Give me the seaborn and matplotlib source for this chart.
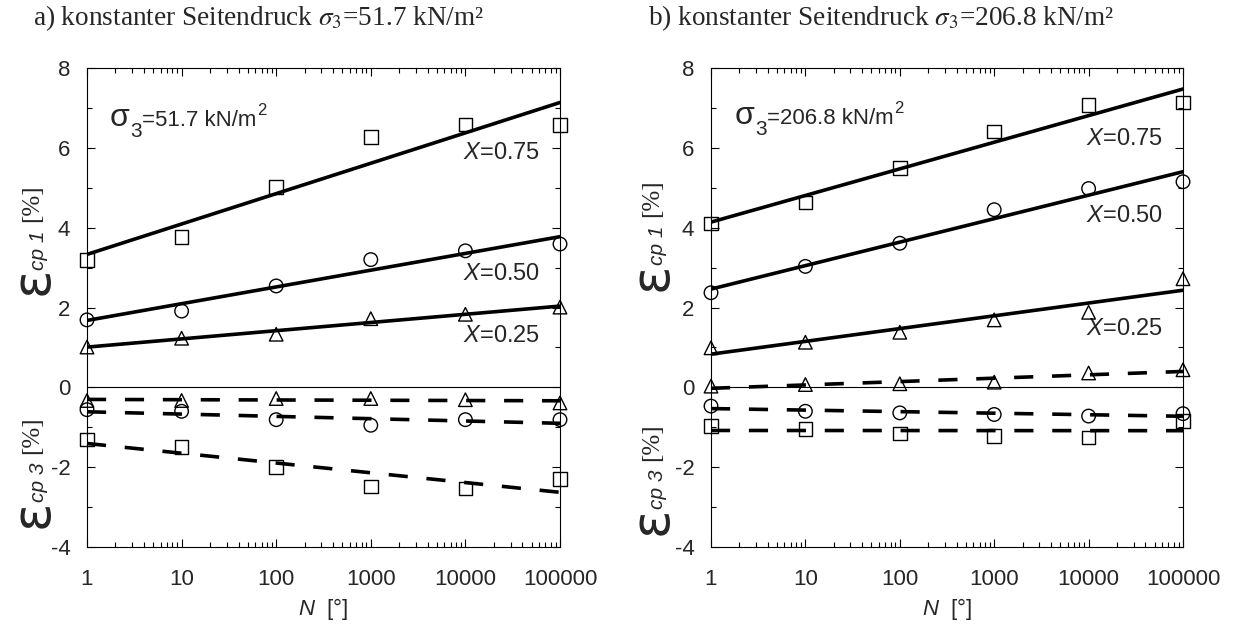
import numpy as np
import pandas as pd
import matplotlib
matplotlib.use("Agg")
import matplotlib.pyplot as plt
import seaborn as sns
from matplotlib.ticker import LogLocator, MultipleLocator, NullFormatter

# ---------------- data ----------------
N = [1, 10, 100, 1000, 10000, 100000]
xtick_labels = ["1", "10", "100", "1000", "10000", "100000"]
yticks = [-4, -2, 0, 2, 4, 6, 8]
levels = ["0.75", "0.50", "0.25"]

# panel a) sigma3 = 51.7 kN/m2
a_e1_075 = [3.19, 3.76, 5.02, 6.27, 6.59, 6.57]
a_e1_050 = [1.69, 1.91, 2.54, 3.20, 3.42, 3.59]
a_e1_025 = [1.01, 1.23, 1.33, 1.72, 1.83, 2.01]
a_e3_075 = [-1.31, -1.49, -1.99, -2.49, -2.53, -2.30]
a_e3_050 = [-0.56, -0.60, -0.81, -0.95, -0.81, -0.81]
a_e3_025 = [-0.33, -0.33, -0.28, -0.28, -0.31, -0.39]

# panel b) sigma3 = 206.8 kN/m2
b_e1_075 = [4.11, 4.63, 5.49, 6.41, 7.07, 7.13]
b_e1_050 = [2.37, 3.03, 3.61, 4.45, 4.98, 5.15]
b_e1_025 = [0.99, 1.13, 1.38, 1.69, 1.88, 2.72]
b_e3_075 = [-0.97, -1.05, -1.16, -1.22, -1.26, -0.84]
b_e3_050 = [-0.47, -0.60, -0.64, -0.68, -0.72, -0.66]
b_e3_025 = [0.03, 0.07, 0.09, 0.13, 0.36, 0.44]

titles = ["a) konstanter Seitendruck $\\sigma_{\\mathit{3}}$=51.7 kN/m\u00b2",
          "b) konstanter Seitendruck $\\sigma_{\\mathit{3}}$=206.8 kN/m\u00b2"]
sigma_texts = ["=51.7 kN/m", "=206.8 kN/m"]

# ---------------- style ----------------
sns.set_theme(style="ticks")
plt.rcParams["font.family"] = ["Liberation Sans", "DejaVu Sans"]
plt.rcParams["mathtext.fontset"] = "custom"
plt.rcParams["mathtext.rm"] = "Liberation Sans"
plt.rcParams["mathtext.it"] = "Liberation Sans:italic"
plt.rcParams["axes.edgecolor"] = "black"
plt.rcParams["axes.linewidth"] = 0.8

markers = {"0.75": "s", "0.50": "o", "0.25": "^"}

fig = plt.figure(figsize=(12.4, 6.26), dpi=100)
W, H = 1240, 626
ax_a = fig.add_axes([87 / W, (H - 547) / H, 473 / W, 479 / H])
ax_b = fig.add_axes([711 / W, (H - 547) / H, 472 / W, 479 / H])

logN = np.log10(N)
N_ends = [N[0], N[-1]]


def draw_series(ax, vals, marker, dashed):
    sns.scatterplot(x=N, y=vals, marker=marker, s=95, facecolors="none",
                    edgecolor="black", linewidth=1.0, ax=ax, clip_on=False,
                    zorder=4, legend=False)
    coef = np.polyfit(logN, vals, 1)
    fit = np.polyval(coef, np.log10(N_ends))
    sns.lineplot(x=N_ends, y=fit, color="black", lw=2.6, ax=ax,
                 legend=False, zorder=3)
    if dashed:
        ax.lines[-1].set_dashes((5.3, 5.2))


def panel(ax, e1, e3, sig_text, xlab_pos, sig_pos, eps_pos):
    for lev, vals in zip(levels, e1):
        draw_series(ax, vals, markers[lev], False)
    for lev, vals in zip(levels, e3):
        draw_series(ax, vals, markers[lev], True)
    ax.axhline(0, color="black", lw=0.8, zorder=2)

    ax.set_xscale("log")
    ax.set_xlim(1, 1e5)
    ax.set_ylim(-4, 8)
    ax.set_xticks(N)
    ax.set_xticklabels(xtick_labels)
    ax.xaxis.set_minor_locator(LogLocator(base=10, subs=np.arange(2, 10)))
    ax.xaxis.set_minor_formatter(NullFormatter())
    ax.set_yticks(yticks)
    ax.set_yticklabels([str(t) for t in yticks])
    ax.yaxis.set_minor_locator(MultipleLocator(1))
    ax.tick_params(which="both", direction="in", top=True, right=True,
                   color="black", width=0.8)
    ax.tick_params(which="major", length=6, labelsize=16)
    ax.tick_params(which="minor", length=3.5)
    ax.tick_params(axis="y", which="major", pad=12)
    ax.tick_params(axis="x", which="major", pad=16)
    for sp in ax.spines.values():
        sp.set_visible(True)
        sp.set_color("black")
        sp.set_linewidth(0.8)

    ax.set_xlabel("$N$  [\u00b0]", fontsize=16, labelpad=4)
    ax.set_ylabel("")

    # X = ... labels
    for lev, yv in zip(levels, xlab_pos):
        ax.text(9400, yv, "$X$=" + lev, fontsize=17, ha="left", va="center")

    # sigma annotation
    x0, yb = sig_pos
    t1 = ax.text(x0, yb, "\u03c3", fontsize=23, ha="left", va="baseline")
    t2 = ax.annotate("3", xy=(1, yb), xycoords=(t1, "data"), xytext=(0.5, -8),
                     textcoords="offset points", fontsize=15, ha="left", va="baseline")
    t3 = ax.annotate(sig_text, xy=(1, yb), xycoords=(t2, "data"), xytext=(0, 0),
                     textcoords="offset points", fontsize=16, ha="left", va="baseline")
    ax.annotate("2", xy=(1, yb), xycoords=(t3, "data"), xytext=(0.5, 8),
                textcoords="offset points", fontsize=12, ha="left", va="baseline")

    # y labels  (epsilon_cp1 [%], epsilon_cp3 [%])
    ex, (ey1, ey3) = eps_pos
    for ey, sub in ((ey1, "cp 1"), (ey3, "cp 3")):
        e = ax.text(ex, ey, "\u03b5", fontsize=38, rotation=90, ha="center",
                    va="center", transform=ax.transAxes,
                    family=["DejaVu Sans"])
        s = ax.annotate(sub, xy=(ex + 0.012, 1), xycoords=("axes fraction", e),
                        xytext=(0, -2), textcoords="offset points",
                        fontsize=15, style="italic", rotation=90,
                        ha="center", va="bottom")
        ax.annotate("[%]", xy=(ex, 1), xycoords=("axes fraction", s),
                    xytext=(0, 6), textcoords="offset points",
                    fontsize=18, family=["Liberation Serif"], rotation=90,
                    ha="center", va="bottom")


panel(ax_a, [a_e1_075, a_e1_050, a_e1_025], [a_e3_075, a_e3_050, a_e3_025],
      sigma_texts[0], [5.88, 2.85, 1.28], (1.75, 6.55), (-0.115, (0.555, 0.07)))
panel(ax_b, [b_e1_075, b_e1_050, b_e1_025], [b_e3_075, b_e3_050, b_e3_025],
      sigma_texts[1], [6.23, 4.28, 1.47], (1.8, 6.6), (-0.125, (0.565, 0.055)))

fig.text(33 / W, 1 - 18 / H, titles[0], fontsize=19.6, ha="left", va="center",
         family=["Liberation Serif"], math_fontfamily="stix")
fig.text(648 / W, 1 - 18 / H, titles[1], fontsize=19.6, ha="left", va="center",
         family=["Liberation Serif"], math_fontfamily="stix")

fig.savefig("out.png", dpi=100)
